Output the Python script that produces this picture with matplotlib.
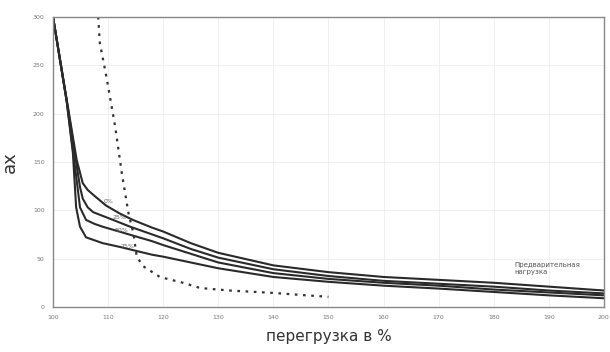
import matplotlib
matplotlib.use("Agg")
import matplotlib.pyplot as plt
import numpy as np

x_0 = [100, 102.5, 104.3, 105.4, 106.3, 107.3, 109.6, 112, 114.5, 118, 120, 125, 130, 140, 150, 160, 170, 180, 190, 200]
y_0 = [300, 214, 152, 128, 121, 116, 105, 97, 90, 82, 78, 66, 56, 43, 36, 31, 28, 25, 21, 17]
x_25 = [100, 102.5, 104.2, 104.9, 105.4, 106.3, 107.3, 110.9, 114, 118, 120, 125, 130, 140, 150, 160, 170, 180, 190, 200]
y_25 = [300, 213, 150, 124, 112, 103, 98, 90, 83, 75, 71, 60, 51, 39, 32, 27, 24, 21, 17, 14]
x_50 = [100, 102.5, 104.1, 104.9, 106, 107.5, 109, 112, 115, 118, 120, 125, 130, 140, 150, 160, 170, 180, 190, 200]
y_50 = [300, 212, 140, 103, 90, 86, 83, 78, 73, 68, 64, 55, 46, 35, 29, 25, 22, 18, 15, 12]
x_75 = [100, 102.5, 103.6, 104.2, 104.9, 106, 109, 112.2, 115.8, 118, 120, 125, 130, 140, 150, 160, 170, 180, 190, 200]
y_75 = [300, 212, 160, 103, 83, 72, 66, 62, 57, 54, 52, 46, 40, 31, 26, 22, 19, 15.5, 12, 9]
curve_labels = ["0%", "25%", "50%", "75%"]
label_pos_x = [110, 112, 112.4, 113.5]
label_pos_y = [109, 92, 79, 63]

x_dot = [108.2, 108.5, 109.7, 111.3, 112.5, 113.7, 114.6, 115.2, 116.4, 119.4, 123.6, 126.7, 132, 140, 146, 150]
y_dot = [300, 273, 238, 186, 138, 97, 76, 52, 42, 31, 25, 19.6, 17, 14.5, 12, 10.5]

x_ticks = list(range(100, 201, 10))
y_ticks = list(range(0, 301, 50))

fig = plt.figure(figsize=(6.1, 3.52), dpi=100)
ax = fig.add_axes([0.0869, 0.128, 0.903, 0.824])

for xs, ys in [(x_0, y_0), (x_25, y_25), (x_50, y_50), (x_75, y_75)]:
    ax.plot(xs, ys, color="#2a2a2a", lw=1.5, solid_joinstyle="round", solid_capstyle="round")

ax.plot(x_dot, y_dot, color="#333333", lw=1.6, linestyle=(0, (1.2, 2.5)))

for t, lx, ly in zip(curve_labels, label_pos_x, label_pos_y):
    ax.text(lx, ly, t, fontsize=4.5, color="#666666", ha="center", va="center")

ax.text(183.8, 47, "Предварительная\nнагрузка", fontsize=5, color="#555555",
        ha="left", va="top", linespacing=1.3)

ax.set_xlim(100, 200)
ax.set_ylim(0, 300)
ax.set_xticks(x_ticks)
ax.set_yticks(y_ticks)
ax.tick_params(labelsize=4.5, colors="#777777", length=0, pad=6)
ax.grid(True, color="#eeeeee", lw=0.6)
for s in ax.spines.values():
    s.set_color("#888888")
    s.set_linewidth(1.0)

ax.set_xlabel("перегрузка в %", fontsize=11, color="#333333", labelpad=6)
ax.set_ylabel("ах", fontsize=13, color="#333333", labelpad=10)

fig.savefig("out.png", dpi=100)
